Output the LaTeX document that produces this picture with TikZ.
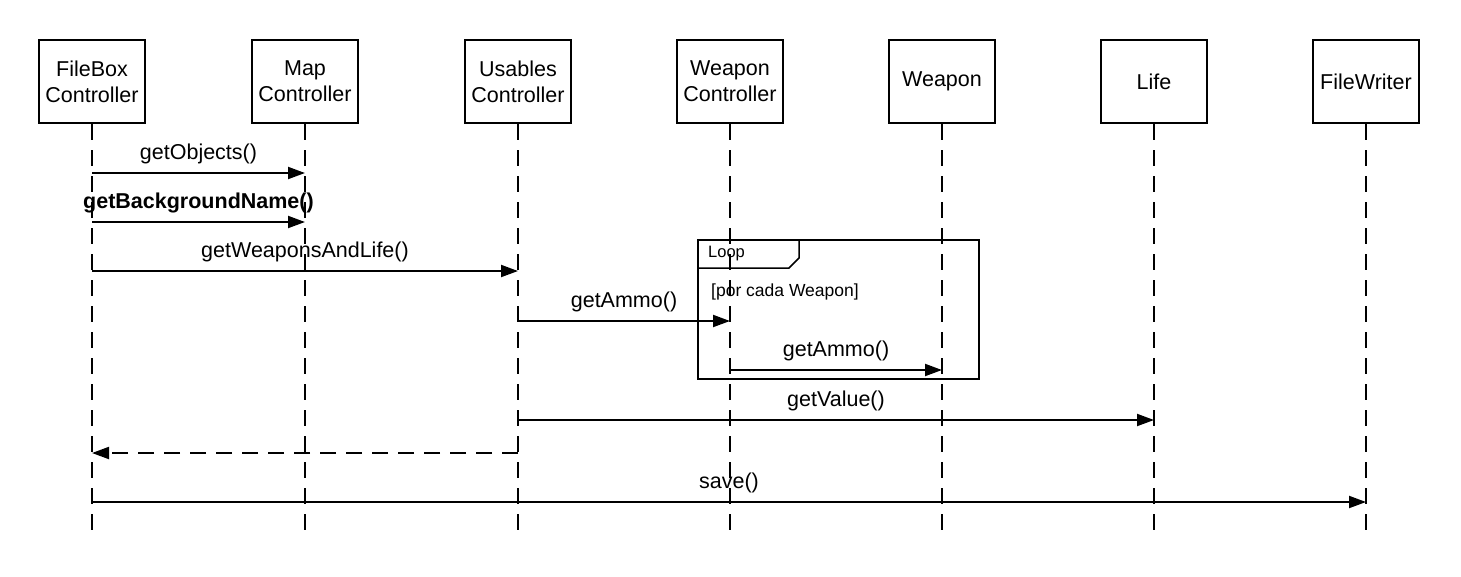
\documentclass[tikz,border=0pt]{standalone}
\usepackage{fontspec}
\setmainfont{Liberation Sans}
\usetikzlibrary{arrows.meta}
\begin{document}
\begin{tikzpicture}[x=1pt,y=-1pt,
  obj/.style={draw,line width=2pt,minimum width=106pt,minimum height=83pt,align=center,font=\fontsize{21.5}{26}\selectfont,inner sep=0pt},
  life/.style={line width=2pt,dash pattern=on 16pt off 10pt},
  msg/.style={line width=2pt,-{Triangle[length=17pt,width=12pt]}},
  ret/.style={line width=2pt,dash pattern=on 16pt off 10pt,-{Triangle[length=17pt,width=12pt]}},
  lbl/.style={font=\fontsize{21.5}{24}\selectfont,inner sep=0pt},
  small/.style={font=\fontsize{17.5}{20}\selectfont,inner sep=0pt,anchor=west}]
\useasboundingbox (0,0) rectangle (1461,576);
\foreach \n/\x/\t in {fb/92/{FileBox\\Controller},mc/305/{Map\\Controller},uc/518/{Usables\\Controller},wc/730/{Weapon\\Controller},wp/942/{Weapon},lf/1154/{Life},fw/1366/{FileWriter}}{
  \node[obj] (\n) at (\x,81.5) {\t};
  \coordinate (\n e) at (\x,536);
  \draw[life] (\n.south) -- (\n e);
}
% loop frame
\node[draw,line width=2pt,minimum width=281pt,minimum height=139pt,inner sep=0pt] (loop) at (838.5,309.5) {};
\draw[line width=1.5pt] (loop.north west) ++(0,29) -- ++(92,0) -- ++(10,-10) -- ++(0,-19);
\node[small,font=\fontsize{16.5}{20}\selectfont] (looplbl) at (708,254) {Loop};
\node[small] (guard) at (711,292) {[por cada Weapon]};
% messages
\coordinate (a1) at (92,173); \coordinate (b1) at (305,173);
\draw[msg] (a1) -- (b1) node[lbl,midway,above=8pt] (m1) {getObjects()};
\coordinate (a2) at (92,222); \coordinate (b2) at (305,222);
\draw[msg] (a2) -- (b2) node[lbl,midway,above=8pt,font=\fontsize{21.5}{24}\selectfont\bfseries] (m2) {getBackgroundName()};
\coordinate (a3) at (92,271); \coordinate (b3) at (518,271);
\draw[msg] (a3) -- (b3) node[lbl,midway,above=8pt] (m3) {getWeaponsAndLife()};
\coordinate (a4) at (518,321); \coordinate (b4) at (730,321);
\draw[msg] (a4) -- (b4) node[lbl,midway,above=8pt] (m4) {getAmmo()};
\coordinate (a5) at (730,370); \coordinate (b5) at (942,370);
\draw[msg] (a5) -- (b5) node[lbl,midway,above=8pt] (m5) {getAmmo()};
\coordinate (a6) at (518,420); \coordinate (b6) at (1154,420);
\draw[msg] (a6) -- (b6) node[lbl,midway,above=8pt] (m6) {getValue()};
\coordinate (a7) at (518,453); \coordinate (b7) at (92,453);
\draw[ret] (a7) -- (b7);
\coordinate (a8) at (92,502); \coordinate (b8) at (1366,502);
\draw[msg] (a8) -- (b8) node[lbl,midway,above=8pt] (m8) {save()};
\end{tikzpicture}
\end{document}
